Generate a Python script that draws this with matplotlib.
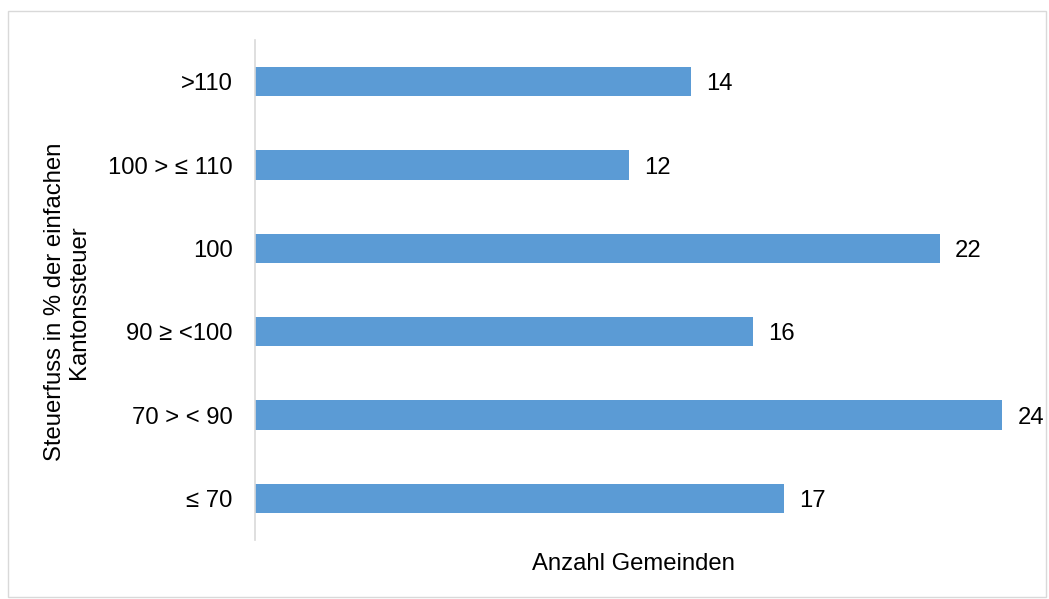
import matplotlib
matplotlib.use("Agg")
import matplotlib.pyplot as plt
from matplotlib.patches import Rectangle

categories = ["≤ 70", "70 > < 90", "90 ≥ <100", "100", "100 > ≤ 110", ">110"]
values = [17, 24, 16, 22, 12, 14]

plt.rcParams['font.family'] = ['Liberation Sans', 'DejaVu Sans']
FS = 17.2

W, H = 1049, 599
fig = plt.figure(figsize=(W / 100, H / 100), dpi=100)
ax = fig.add_axes([255 / W, 1 - 540 / H, (1017.6 - 255) / W, 500 / H])

ypos = range(len(categories))
ax.barh(ypos, values, height=0.35, color="#5b9bd5")
for y, v in zip(ypos, values):
    ax.annotate(str(v), (v, y), xytext=(11, 0), textcoords="offset points",
                va="center_baseline", ha="left", fontsize=FS, color="black")

ax.set_xlim(0, 24.5)
ax.set_ylim(-0.5, 5.5)
ax.set_yticks(list(ypos))
ax.set_yticklabels(categories, fontsize=FS, va="center_baseline")
ax.tick_params(axis="y", length=0, pad=16)
ax.set_xticks([])
for s in ["top", "right", "bottom"]:
    ax.spines[s].set_visible(False)
ax.spines["left"].set_color("#d9d9d9")
ax.spines["left"].set_linewidth(1.2)

fig.text(633 / W, 1 - 564 / H, "Anzahl Gemeinden", ha="center", va="center", fontsize=FS)
fig.text(67 / W, 1 - 302 / H, "Steuerfuss in % der einfachen\nKantonssteuer",
         ha="center", va="center", rotation=90, fontsize=FS, linespacing=1.12)

fig.patches.append(Rectangle((8 / W, 1 - 597 / H), (1046 - 8) / W, (597 - 11) / H,
                             transform=fig.transFigure, fill=False,
                             edgecolor="#d9d9d9", linewidth=1))

fig.savefig("out.png", dpi=100)
